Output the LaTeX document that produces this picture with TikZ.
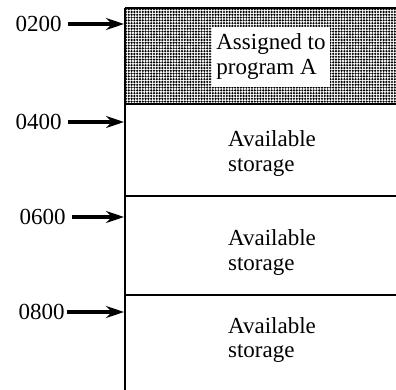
\documentclass[tikz,border=0pt]{standalone}
\usepackage{fontspec}
\setmainfont{Liberation Serif}
\usetikzlibrary{arrows.meta, patterns.meta, positioning}
\tikzset{
  addr/.style={font=\fontsize{11.5}{12.5}\selectfont, inner sep=0pt, anchor=east},
  ptr/.style={-{Stealth[length=9pt, width=6pt]}, line width=1.8pt, shorten <=3pt},
  wall/.style={line width=1pt},
  txt/.style={font=\fontsize{11.5}{12.5}\selectfont, align=left, inner sep=2pt},
  shade/.style={pattern={Dots[distance=1.4pt, radius=0.6pt]}, draw=none}
}
\begin{document}
\begin{tikzpicture}[x=0.5pt, y=-0.5pt]
	\useasboundingbox (0,0) rectangle (396,390);
	% storage column
	\coordinate (tl) at (125,8); \coordinate (tr) at (396,8);
	\coordinate (b1l) at (125,104); \coordinate (b1r) at (396,104);
	\coordinate (b2l) at (125,196); \coordinate (b2r) at (396,196);
	\coordinate (b3l) at (125,295); \coordinate (b3r) at (396,295);
	\coordinate (bl) at (125,390);
	\fill[shade] (tl) rectangle (b1r);
	\draw[wall, line width=1.3pt] (tl) -- (tr);
	\draw[wall, line width=1.2pt] (b1l) -- (b1r);
	\draw[wall] (b2l) -- (b2r);
	\draw[wall] (b3l) -- (b3r);
	\draw[wall] (tl) -- (bl);
	% contents
	\node[txt, fill=white, minimum width=59pt, minimum height=30pt] (progA) at (271,57) {Assigned to\\program A};
	\node[txt] (free1) at (272,154) {Available\\storage};
	\node[txt] (free2) at (272,253) {Available\\storage};
	\node[txt] (free3) at (272,340) {Available\\storage};
	% addresses
	\node[addr] (a200) at (62,24) {0200};
	\node[addr] (a400) at (62,122) {0400};
	\node[addr] (a600) at (66,217) {0600};
	\node[addr] (a800) at (65,312) {0800};
	\coordinate (p200) at (124,24);
	\coordinate (p400) at (124,122);
	\coordinate (p600) at (124,217);
	\coordinate (p800) at (124,312);
	\draw[ptr] (a200) -- (p200);
	\draw[ptr] (a400) -- (p400);
	\draw[ptr] (a600) -- (p600);
	\draw[ptr, shorten <=1pt] (a800) -- (p800);
\end{tikzpicture}
\end{document}
